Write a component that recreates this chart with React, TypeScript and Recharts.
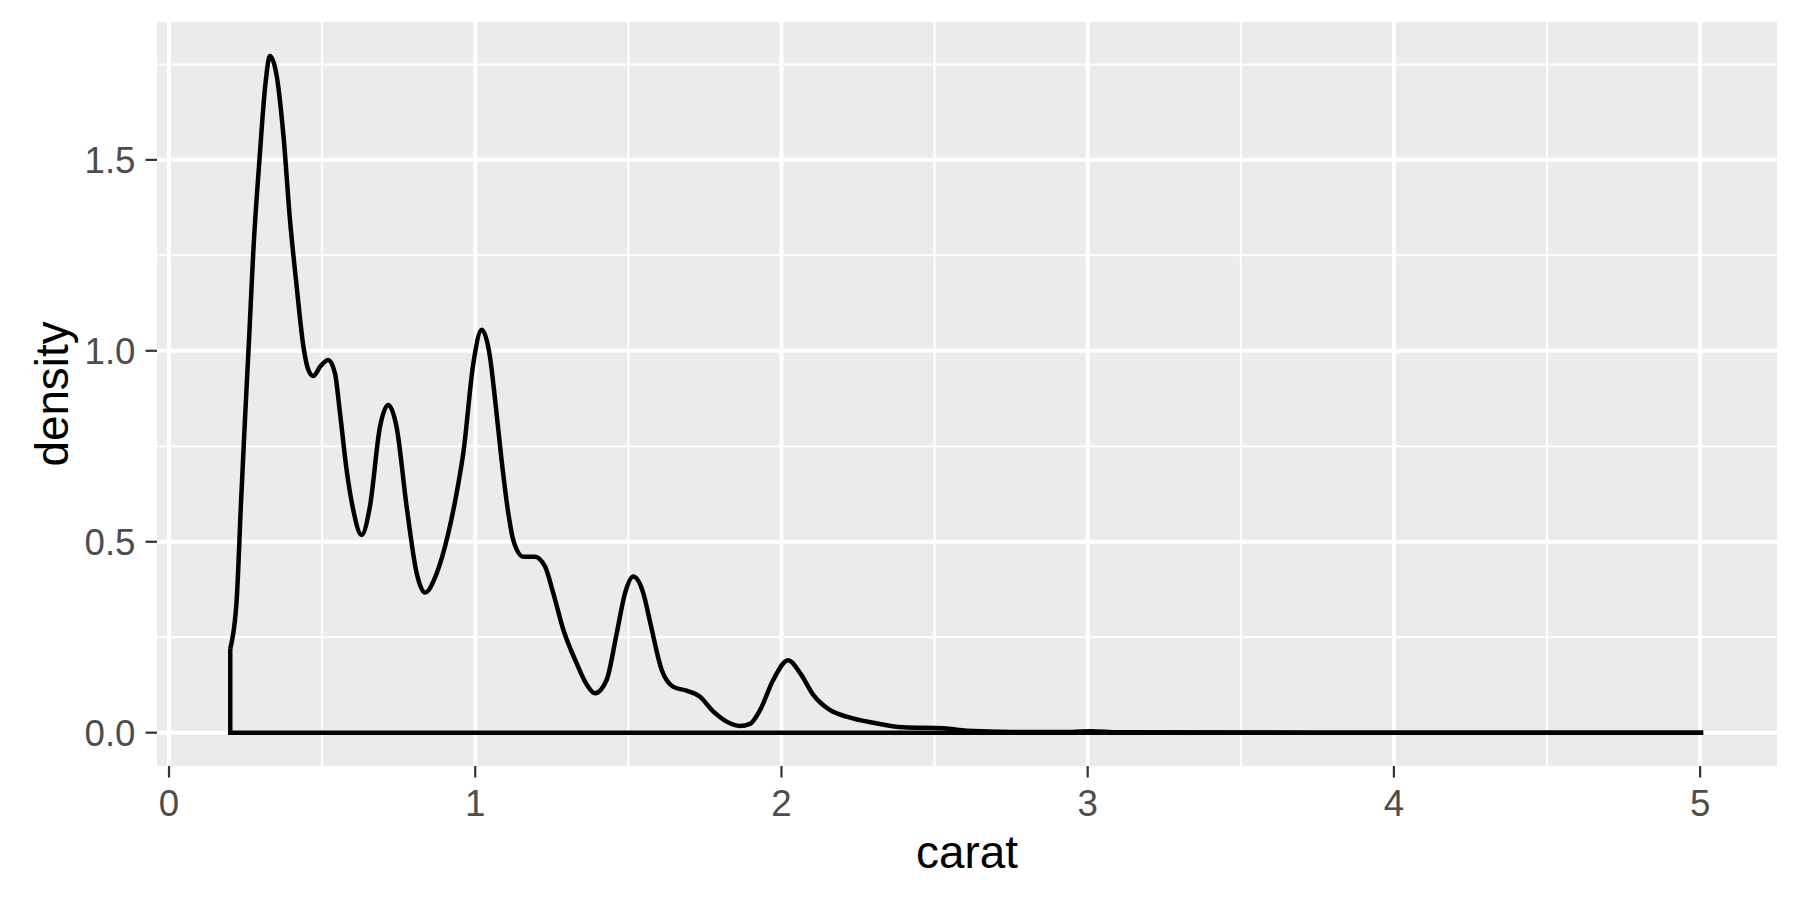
import { LineChart, Line, XAxis, YAxis, CartesianGrid } from "recharts";

// density estimate of carat
const caratX = [
  0.2, 0.221, 0.235, 0.248, 0.262, 0.275, 0.297, 0.314, 0.33, 0.352, 0.374, 0.395,
  0.417, 0.439, 0.455, 0.471, 0.495, 0.52, 0.542, 0.558, 0.58, 0.6, 0.629, 0.656,
  0.689, 0.716, 0.743, 0.776, 0.809, 0.836, 0.874, 0.912, 0.945, 0.961, 0.994, 1.021,
  1.048, 1.065, 1.086, 1.108, 1.124, 1.157, 1.195, 1.228, 1.255, 1.288, 1.331, 1.365,
  1.391, 1.429, 1.462, 1.489, 1.516, 1.549, 1.571, 1.609, 1.647, 1.69, 1.734, 1.778,
  1.821, 1.865, 1.897, 1.93, 1.973, 2.022, 2.061, 2.104, 2.159, 2.213, 2.3, 2.398,
  2.529, 2.605, 2.75, 2.95, 3.01, 3.1, 3.5, 4.0, 4.5, 5.01,
];
const densityY = [
  0.221, 0.348, 0.6, 0.819, 1.04, 1.256, 1.518, 1.692, 1.772, 1.718, 1.561, 1.343,
  1.168, 1.011, 0.95, 0.934, 0.96, 0.976, 0.941, 0.84, 0.688, 0.59, 0.518, 0.592,
  0.801, 0.858, 0.801, 0.592, 0.417, 0.367, 0.417, 0.522, 0.653, 0.732, 0.968, 1.055,
  0.985, 0.871, 0.714, 0.575, 0.505, 0.461, 0.461, 0.435, 0.365, 0.269, 0.182, 0.125,
  0.103, 0.138, 0.26, 0.365, 0.409, 0.365, 0.29, 0.164, 0.12, 0.11, 0.094, 0.055,
  0.029, 0.0175, 0.023, 0.059, 0.138, 0.19, 0.156, 0.099, 0.059, 0.042, 0.026, 0.014,
  0.0115, 0.005, 0.002, 0.002, 0.004, 0.001, 0.0003, 0.0001, 0, 0,
];
// left edge and baseline of the density polygon
const outlineX = [0.2, 0.2, 5.01];
const outlineY = [0.221, 0, 0];

const xTicks = [0, 1, 2, 3, 4, 5];
const xMinor = [0.5, 1.5, 2.5, 3.5, 4.5];
const yTicks = [0, 0.5, 1, 1.5];
const yMinor = [0.25, 0.75, 1.25, 1.75];

const curve = caratX.map((x, i) => ({ x, y: densityY[i] }));
const outline = outlineX.map((x, i) => ({ x, y: outlineY[i] }));

const font = "'Liberation Sans', Arial, sans-serif";
const tickStyle = { fill: "#4D4D4D", fontSize: 36.7, fontFamily: font };

export default function App() {
  return (
    <div style={{ position: "absolute", left: 0, top: 0, background: "#fff" }}>
      <LineChart
        width={1800}
        height={900}
        margin={{ top: 22, right: 23, bottom: 0, left: 0 }}
      >
        <CartesianGrid
          fill="#EBEBEB"
          stroke="#FFFFFF"
          strokeWidth={2}
          horizontalValues={yMinor}
          verticalValues={xMinor}
        />
        <CartesianGrid
          fill="none"
          stroke="#FFFFFF"
          strokeWidth={4}
          horizontalValues={yTicks}
          verticalValues={xTicks}
        />
        <XAxis
          dataKey="x"
          type="number"
          domain={[-0.0392, 5.251]}
          allowDataOverflow
          ticks={xTicks}
          height={134}
          axisLine={false}
          tickLine={{ stroke: "#333333", strokeWidth: 2.2 }}
          tickSize={11.5}
          tickMargin={12}
          tick={tickStyle}
          label={{
            value: "carat",
            position: "insideBottom",
            offset: 32,
            style: { fill: "#000", fontSize: 45.8, fontFamily: font },
          }}
        />
        <YAxis
          type="number"
          domain={[-0.0872, 1.861]}
          allowDataOverflow
          ticks={yTicks}
          width={157}
          axisLine={false}
          tickLine={{ stroke: "#333333", strokeWidth: 2.2 }}
          tickSize={11.5}
          tickMargin={10}
          tick={tickStyle}
          tickFormatter={(v: number) => v.toFixed(1)}
          label={{
            value: "density",
            angle: -90,
            position: "insideLeft",
            offset: 52,
            style: { fill: "#000", fontSize: 45.8, fontFamily: font, textAnchor: "middle" },
          }}
        />
        <Line
          data={outline}
          dataKey="y"
          type="linear"
          stroke="#000"
          strokeWidth={4.5}
          dot={false}
          activeDot={false}
          isAnimationActive={false}
        />
        <Line
          data={curve}
          dataKey="y"
          type="monotone"
          stroke="#000"
          strokeWidth={4.5}
          dot={false}
          activeDot={false}
          isAnimationActive={false}
        />
      </LineChart>
    </div>
  );
}
